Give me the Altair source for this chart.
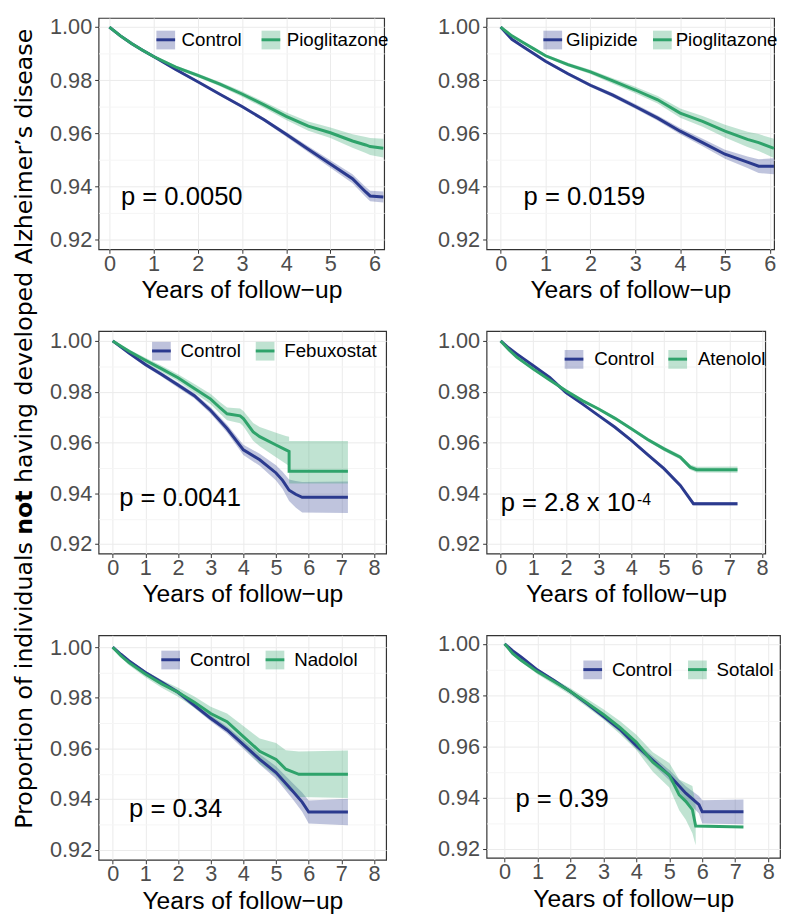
import altair as alt
import pandas as pd

FONT = "Liberation Sans"
TITLE_FONT = "DejaVu Sans"
BLUE = "#2B3A8E"
GREEN = "#2FA36B"
X_TITLE = "Years of follow\u2212up"
Y_TITLE_PARTS = ["Proportion of individuals", "not", "having developed Alzheimer\u2019s disease"]

X_TICKS_6 = [0, 0.5, 1, 1.5, 2, 2.5, 3, 3.5, 4, 4.5, 5, 5.5, 6]
X_TICKS_8 = [0, 0.5, 1, 1.5, 2, 2.5, 3, 3.5, 4, 4.5, 5, 5.5, 6, 6.5, 7, 7.5, 8]
Y_TICKS = [0.92, 0.93, 0.94, 0.95, 0.96, 0.97, 0.98, 0.99, 1.00]

# ---------------- Panel 1: Control vs Pioglitazone ----------------
P1_LABELS = ["Control", "Pioglitazone"]
P1_T = [0, 0.25, 0.5, 0.75, 1, 1.5, 2, 2.5, 3, 3.5, 4, 4.5, 5, 5.5, 5.8, 5.9, 6.2]
P1_CTRL = [1.0, 0.9967, 0.9938, 0.9913, 0.9889, 0.9840, 0.9794, 0.9747, 0.9701, 0.9651, 0.9596, 0.9540, 0.9484, 0.9429, 0.9379, 0.9364, 0.9360]
P1_CTRL_LO = [1.0, 0.9965, 0.9935, 0.9910, 0.9885, 0.9836, 0.9789, 0.9742, 0.9695, 0.9644, 0.9587, 0.9529, 0.9470, 0.9412, 0.9360, 0.9344, 0.9339]
P1_CTRL_HI = [1.0, 0.9969, 0.9941, 0.9916, 0.9893, 0.9844, 0.9799, 0.9752, 0.9707, 0.9658, 0.9605, 0.9551, 0.9498, 0.9446, 0.9398, 0.9384, 0.9381]
P1_TRT = [1.0, 0.9967, 0.9938, 0.9913, 0.9889, 0.9849, 0.9818, 0.9785, 0.9748, 0.9707, 0.9664, 0.9627, 0.9602, 0.9571, 0.9556, 0.9550, 0.9544]
P1_TRT_LO = [1.0, 0.9964, 0.9934, 0.9908, 0.9884, 0.9843, 0.9811, 0.9777, 0.9738, 0.9695, 0.9650, 0.9610, 0.9582, 0.9546, 0.9526, 0.9518, 0.9509]
P1_TRT_HI = [1.0, 0.9970, 0.9942, 0.9918, 0.9894, 0.9855, 0.9825, 0.9793, 0.9758, 0.9719, 0.9678, 0.9644, 0.9622, 0.9596, 0.9586, 0.9582, 0.9579]

# ---------------- Panel 2: Glipizide vs Pioglitazone ----------------
P2_LABELS = ["Glipizide", "Pioglitazone"]
P2_T = [0, 0.25, 0.5, 0.75, 1, 1.5, 2, 2.5, 3, 3.5, 4, 4.5, 5, 5.5, 5.75, 6.09]
P2_CTRL = [1.0, 0.9954, 0.9926, 0.9899, 0.9871, 0.9824, 0.9781, 0.9744, 0.9701, 0.9657, 0.9608, 0.9565, 0.9521, 0.9491, 0.9476, 0.9476]
P2_CTRL_LO = [1.0, 0.9951, 0.9922, 0.9895, 0.9866, 0.9818, 0.9774, 0.9736, 0.9692, 0.9647, 0.9596, 0.9551, 0.9504, 0.9469, 0.9450, 0.9446]
P2_CTRL_HI = [1.0, 0.9957, 0.9930, 0.9903, 0.9876, 0.9830, 0.9788, 0.9752, 0.9710, 0.9667, 0.9620, 0.9579, 0.9538, 0.9513, 0.9502, 0.9506]
P2_TRT = [1.0, 0.9967, 0.9942, 0.9917, 0.9892, 0.9859, 0.9831, 0.9797, 0.9763, 0.9726, 0.9676, 0.9645, 0.9608, 0.9577, 0.9565, 0.9543]
P2_TRT_LO = [1.0, 0.9964, 0.9938, 0.9912, 0.9886, 0.9852, 0.9823, 0.9787, 0.9751, 0.9712, 0.9659, 0.9625, 0.9584, 0.9548, 0.9533, 0.9507]
P2_TRT_HI = [1.0, 0.9970, 0.9946, 0.9922, 0.9898, 0.9866, 0.9839, 0.9807, 0.9775, 0.9740, 0.9693, 0.9665, 0.9632, 0.9606, 0.9597, 0.9579]

# ---------------- Panel 3: Control vs Febuxostat ----------------
P3_LABELS = ["Control", "Febuxostat"]
P3_CTRL_T = [0, 0.5, 1, 1.5, 2, 2.5, 3, 3.5, 4, 4.5, 5, 5.2, 5.4, 5.6, 5.8, 7.2]
P3_CTRL = [1.0, 0.9952, 0.9907, 0.9868, 0.9826, 0.9784, 0.9726, 0.9655, 0.9571, 0.9532, 0.9480, 0.9451, 0.9412, 0.9396, 0.9384, 0.9384]
P3_CTRL_LO = [1.0, 0.9946, 0.9899, 0.9859, 0.9816, 0.9773, 0.9713, 0.9639, 0.9551, 0.9508, 0.9450, 0.9417, 0.9370, 0.9344, 0.9324, 0.9322]
P3_CTRL_HI = [1.0, 0.9958, 0.9915, 0.9877, 0.9836, 0.9795, 0.9739, 0.9671, 0.9591, 0.9556, 0.9510, 0.9485, 0.9454, 0.9448, 0.9444, 0.9446]
P3_TRT_T = [0, 0.5, 1, 1.5, 2, 2.5, 3, 3.3, 3.5, 3.9, 4.0, 4.3, 4.5, 5.0, 5.3, 5.4, 5.4, 7.2]
P3_TRT = [1.0, 0.9959, 0.9924, 0.9890, 0.9855, 0.9813, 0.9771, 0.9735, 0.9713, 0.9705, 0.9694, 0.9642, 0.9623, 0.9590, 0.9571, 0.9565, 0.9487, 0.9487]
P3_TRT_LO = [1.0, 0.9952, 0.9914, 0.9878, 0.9841, 0.9796, 0.9751, 0.9712, 0.9688, 0.9676, 0.9664, 0.9607, 0.9585, 0.9542, 0.9516, 0.9507, 0.9439, 0.9439]
P3_TRT_HI = [1.0, 0.9966, 0.9934, 0.9902, 0.9869, 0.9830, 0.9791, 0.9758, 0.9738, 0.9734, 0.9724, 0.9677, 0.9661, 0.9638, 0.9626, 0.9623, 0.9606, 0.9606]

# ---------------- Panel 4: Control vs Atenolol ----------------
P4_LABELS = ["Control", "Atenolol"]
P4_CTRL_T = [0, 0.25, 0.5, 1, 1.5, 2, 2.5, 3, 3.5, 4, 4.5, 5, 5.5, 5.9, 7.25]
P4_CTRL = [1.0, 0.9972, 0.9948, 0.9902, 0.9856, 0.9797, 0.9752, 0.9706, 0.9660, 0.9608, 0.9552, 0.9497, 0.9431, 0.9359, 0.9359]
P4_CTRL_LO = [1.0, 0.9970, 0.9946, 0.9899, 0.9853, 0.9794, 0.9748, 0.9702, 0.9656, 0.9603, 0.9547, 0.9491, 0.9425, 0.9352, 0.9352]
P4_CTRL_HI = [1.0, 0.9974, 0.9950, 0.9905, 0.9859, 0.9800, 0.9756, 0.9710, 0.9664, 0.9613, 0.9557, 0.9503, 0.9437, 0.9366, 0.9366]
P4_TRT_T = [0, 0.25, 0.5, 1, 1.5, 2, 2.5, 3, 3.5, 4, 4.5, 5, 5.5, 5.8, 6.0, 7.25]
P4_TRT = [1.0, 0.9965, 0.9935, 0.9889, 0.9846, 0.9804, 0.9765, 0.9732, 0.9695, 0.9654, 0.9612, 0.9575, 0.9542, 0.9503, 0.9493, 0.9493]
P4_TRT_LO = [1.0, 0.9963, 0.9932, 0.9886, 0.9842, 0.9800, 0.9760, 0.9727, 0.9689, 0.9648, 0.9605, 0.9567, 0.9533, 0.9493, 0.9482, 0.9481]
P4_TRT_HI = [1.0, 0.9967, 0.9938, 0.9892, 0.9850, 0.9808, 0.9770, 0.9737, 0.9701, 0.9660, 0.9619, 0.9583, 0.9551, 0.9513, 0.9504, 0.9505]

# ---------------- Panel 5: Control vs Nadolol ----------------
P5_LABELS = ["Control", "Nadolol"]
P5_CTRL_T = [0, 0.25, 0.5, 1, 1.5, 2, 2.5, 3, 3.5, 4, 4.5, 5, 5.5, 5.8, 6.0, 7.2]
P5_CTRL = [1.0, 0.9972, 0.9946, 0.9900, 0.9861, 0.9822, 0.9770, 0.9719, 0.9673, 0.9615, 0.9557, 0.9505, 0.9433, 0.9388, 0.9349, 0.9349]
P5_CTRL_LO = [1.0, 0.9968, 0.9941, 0.9893, 0.9853, 0.9813, 0.9760, 0.9707, 0.9659, 0.9598, 0.9537, 0.9480, 0.9401, 0.9350, 0.9304, 0.9297]
P5_CTRL_HI = [1.0, 0.9976, 0.9951, 0.9907, 0.9869, 0.9831, 0.9780, 0.9731, 0.9687, 0.9632, 0.9577, 0.9530, 0.9465, 0.9426, 0.9394, 0.9401]
P5_TRT_T = [0, 0.25, 0.5, 1, 1.5, 2, 2.5, 3, 3.5, 4, 4.5, 5, 5.3, 5.7, 7.2]
P5_TRT = [1.0, 0.9966, 0.9939, 0.9894, 0.9855, 0.9822, 0.9783, 0.9738, 0.9706, 0.9647, 0.9589, 0.9557, 0.9518, 0.9498, 0.9498]
P5_TRT_LO = [1.0, 0.9959, 0.9929, 0.9881, 0.9840, 0.9804, 0.9761, 0.9711, 0.9674, 0.9605, 0.9539, 0.9492, 0.9443, 0.9408, 0.9404]
P5_TRT_HI = [1.0, 0.9973, 0.9949, 0.9907, 0.9870, 0.9840, 0.9805, 0.9765, 0.9738, 0.9689, 0.9639, 0.9622, 0.9593, 0.9588, 0.9592]

# ---------------- Panel 6: Control vs Sotalol ----------------
P6_LABELS = ["Control", "Sotalol"]
P6_CTRL_T = [0, 0.25, 0.5, 1, 1.5, 2, 2.5, 3, 3.5, 4, 4.5, 5, 5.5, 5.9, 6.0, 7.25]
P6_CTRL = [1.0, 0.9973, 0.9949, 0.9898, 0.9857, 0.9814, 0.9767, 0.9718, 0.9667, 0.9603, 0.9546, 0.9488, 0.9418, 0.9373, 0.9345, 0.9345]
P6_CTRL_LO = [1.0, 0.9970, 0.9945, 0.9893, 0.9851, 0.9807, 0.9759, 0.9709, 0.9656, 0.9590, 0.9530, 0.9468, 0.9391, 0.9339, 0.9300, 0.9297]
P6_CTRL_HI = [1.0, 0.9976, 0.9953, 0.9903, 0.9863, 0.9821, 0.9775, 0.9727, 0.9678, 0.9616, 0.9562, 0.9508, 0.9445, 0.9407, 0.9390, 0.9393]
P6_TRT_T = [0, 0.25, 0.5, 1, 1.5, 2, 2.5, 3, 3.5, 4, 4.5, 5, 5.3, 5.5, 5.7, 5.8, 7.25]
P6_TRT = [1.0, 0.9962, 0.9936, 0.9891, 0.9853, 0.9814, 0.9770, 0.9725, 0.9674, 0.9616, 0.9539, 0.9488, 0.9411, 0.9386, 0.9354, 0.9290, 0.9286]
P6_TRT_LO = [1.0, 0.9957, 0.9929, 0.9882, 0.9842, 0.9801, 0.9754, 0.9705, 0.9649, 0.9586, 0.9501, 0.9440, 0.9351, 0.9314, 0.9262, 0.9215, None]
P6_TRT_HI = [1.0, 0.9967, 0.9943, 0.9900, 0.9864, 0.9827, 0.9786, 0.9745, 0.9699, 0.9646, 0.9577, 0.9536, 0.9471, 0.9458, 0.9446, 0.9370, None]

# p-value annotations (x in years, y in proportion)
P_TEXTS = ["p = 0.0050", "p = 0.0159", "p = 0.0041", "p = 2.8 x 10", "p = 0.34", "p = 0.39"]
P_X = [0.26, 0.51, 0.20, 0.0, 0.50, 0.33]
P_Y = [0.933, 0.933, 0.9351, 0.933, 0.933, 0.9363]
SUP_TEXT = "-4"
SUP_X = 4.175
SUP_Y = 0.9352

GRID_MAJOR = "#EBEBEB"
GRID_MINOR = "#F5F5F5"
LABEL_COLOR = "#4D4D4D"


def frame(name, t, est, lo, hi):
    return pd.DataFrame({"grp": name, "t": t, "est": est, "lo": lo, "hi": hi,
                         "i": list(range(len(t)))})


def make_panel(labels, ctrl, trt, xdom, ydom, xticks, width, height, leg, k, extra=None):
    df = pd.concat([frame(labels[0], *ctrl), frame(labels[1], *trt)], ignore_index=True)
    xs = alt.Scale(domain=xdom, nice=False, zero=False)
    ys = alt.Scale(domain=ydom, nice=False, zero=False)
    x_minor = "datum.value % 1 !== 0"
    y_minor = "round(datum.value * 100) % 2 !== 0"
    xax = alt.Axis(values=xticks, title=X_TITLE, titleFont=FONT, titleFontSize=25,
                   titleFontWeight="normal", titleColor="black", titlePadding=4,
                   labelFont=FONT, labelFontSize=22, labelColor=LABEL_COLOR, labelPadding=0,
                   labelExpr="datum.value % 1 === 0 ? datum.label : ''", format="d",
                   labelFlush=False, labelOverlap=False, domain=False,
                   tickSize=4, tickWidth=1, tickColor="#333333",
                   tickOpacity={"condition": {"test": x_minor, "value": 0}, "value": 1},
                   grid=True, gridWidth=1,
                   gridColor={"condition": {"test": x_minor, "value": GRID_MINOR}, "value": GRID_MAJOR})
    yax = alt.Axis(values=Y_TICKS, title=None, format=".2f",
                   labelFont=FONT, labelFontSize=22, labelColor=LABEL_COLOR, labelPadding=3,
                   labelExpr="round(datum.value * 100) % 2 === 0 ? datum.label : ''",
                   labelFlush=False, labelOverlap=False, domain=False,
                   tickSize=4, tickWidth=1, tickColor="#333333",
                   tickOpacity={"condition": {"test": y_minor, "value": 0}, "value": 1},
                   grid=True, gridWidth=1,
                   gridColor={"condition": {"test": y_minor, "value": GRID_MINOR}, "value": GRID_MAJOR})
    X = alt.X("t:Q", scale=xs, axis=xax)
    lx, ly, loff, cpad = leg
    common = dict(orient="none", legendX=lx, legendY=ly, direction="horizontal", title=None,
                  symbolSize=361, symbolStrokeWidth=3, labelFont=FONT, labelFontSize=19,
                  labelColor="black", labelOffset=loff, columnPadding=cpad, padding=0)
    colors = alt.Scale(domain=labels, range=[BLUE, GREEN])
    band = alt.Chart(df).mark_area(opacity=0.3).encode(
        x=X, y=alt.Y("lo:Q", scale=ys, axis=yax), y2="hi:Q",
        fill=alt.Fill("grp:N", scale=colors,
                      legend=alt.Legend(symbolType="square", symbolOpacity=0.3,
                                        symbolStrokeColor="transparent", labelOpacity=0, **common)))
    line = alt.Chart(df).mark_line(strokeWidth=3).encode(
        x=X, y=alt.Y("est:Q", scale=ys, axis=yax),
        stroke=alt.Stroke("grp:N", scale=colors,
                          legend=alt.Legend(symbolType="stroke", **common)),
        order="i:Q")
    ptxt = alt.Chart(pd.DataFrame({"t": [P_X[k]], "est": [P_Y[k]], "label": [P_TEXTS[k]]})).mark_text(
        align="left", baseline="alphabetic", font=FONT, fontSize=26, color="black").encode(
        x=X, y=alt.Y("est:Q", scale=ys, axis=yax), text="label:N")
    layers = [band, line, ptxt]
    if extra == "sup":
        layers.append(alt.Chart(pd.DataFrame({"t": [SUP_X], "est": [SUP_Y], "label": [SUP_TEXT]})).mark_text(
            align="left", baseline="alphabetic", font=FONT, fontSize=16, color="black").encode(
            x=X, y=alt.Y("est:Q", scale=ys, axis=yax), text="label:N"))
    if extra == "title":
        # shared y-axis title, rotated; the word "not" is bold
        not_c, not_w, gap, tx = 184.3, 45, 7.6, -72
        specs = [(Y_TITLE_PARTS[0], "right", not_c + not_w / 2 + gap, "normal"),
                 (Y_TITLE_PARTS[1], "center", not_c, "bold"),
                 (Y_TITLE_PARTS[2], "left", not_c - not_w / 2 - gap, "normal")]
        for txt, al, yy, fw in specs:
            layers.append(alt.Chart(pd.DataFrame({"label": [txt]})).mark_text(
                align=al, baseline="alphabetic", angle=270, font=TITLE_FONT, fontSize=24,
                lineHeight=4, fontWeight=fw, color="black", text=["", txt]).encode(
                x=alt.value(tx), y=alt.value(yy)))
    return alt.layer(*layers).resolve_scale(fill="independent", stroke="independent").properties(
        width=width, height=height)


YD1 = [0.91629, 1.00345]
YD3 = [0.91624, 1.00388]
YD5 = [0.91600, 1.00467]
YD6 = [0.91654, 1.00334]

p1 = make_panel(P1_LABELS, (P1_T, P1_CTRL, P1_CTRL_LO, P1_CTRL_HI), (P1_T, P1_TRT, P1_TRT_LO, P1_TRT_HI),
                [-0.245, 6.217], YD1, X_TICKS_6, 290, 235, (57.2, 11.2, 5.0, 12.8), 0)
p2 = make_panel(P2_LABELS, (P2_T, P2_CTRL, P2_CTRL_LO, P2_CTRL_HI), (P2_T, P2_TRT, P2_TRT_LO, P2_TRT_HI),
                [-0.314, 6.094], YD1, X_TICKS_6, 292, 235, (56.2, 11.2, 2.5, 8.3), 1)
p3 = make_panel(P3_LABELS, (P3_CTRL_T, P3_CTRL, P3_CTRL_LO, P3_CTRL_HI), (P3_TRT_T, P3_TRT, P3_TRT_LO, P3_TRT_HI),
                [-0.432, 8.37], YD3, X_TICKS_8, 292, 226, (52.8, 9.2, 8.5, 8.3), 2, extra="title")
p4 = make_panel(P4_LABELS, (P4_CTRL_T, P4_CTRL, P4_CTRL_LO, P4_CTRL_HI), (P4_TRT_T, P4_TRT, P4_TRT_LO, P4_TRT_HI),
                [-0.432, 8.1], YD3, X_TICKS_8, 283, 226, (77.8, 17.5, 9.5, 7.3), 3, extra="sup")
p5 = make_panel(P5_LABELS, (P5_CTRL_T, P5_CTRL, P5_CTRL_LO, P5_CTRL_HI), (P5_TRT_T, P5_TRT, P5_TRT_LO, P5_TRT_HI),
                [-0.432, 8.37], YD5, X_TICKS_8, 292, 228, (62.2, 13.8, 8.5, 8.9), 4)
p6 = make_panel(P6_LABELS, (P6_CTRL_T, P6_CTRL, P6_CTRL_LO, P6_CTRL_HI), (P6_TRT_T, P6_TRT, P6_TRT_LO, P6_TRT_HI),
                [-0.547, 8.36], YD6, X_TICKS_8, 298, 226, (96.8, 23.8, 8.5, 9.3), 5)

chart = alt.concat(p1, p2, p3, p4, p5, p6, columns=2, spacing={"row": 83, "column": 102},
                   bounds="flush", align="each").resolve_scale(
    fill="independent", stroke="independent").properties(
    padding=0, background="white").configure_view(stroke="#333333", strokeWidth=1.2)

chart.save("out.html", embed_options={"renderer": "svg", "actions": False})
